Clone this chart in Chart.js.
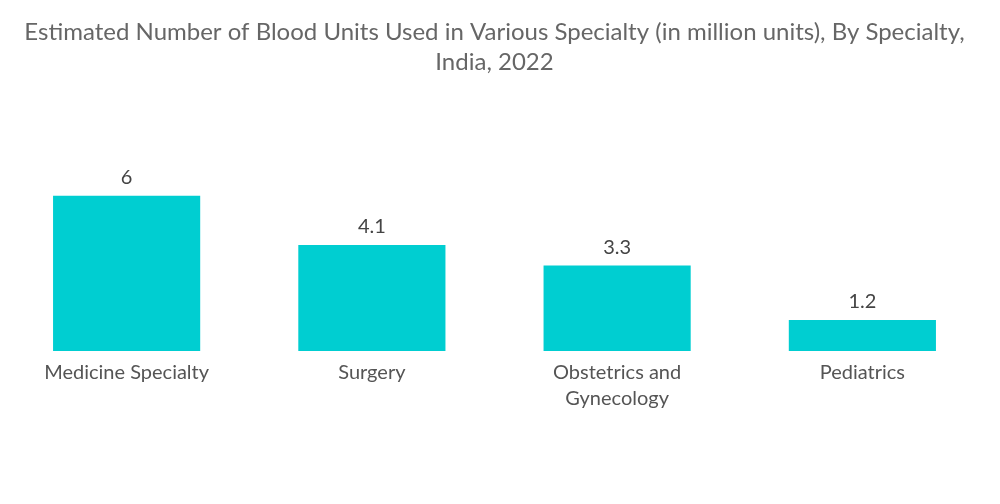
<!DOCTYPE html>
<html>
<head>
<meta charset="utf-8">
<script src="https://cdn.jsdelivr.net/npm/chart.js@4"></script>
<style>
  html, body { margin: 0; padding: 0; background: #fff; }
  #wrap { width: 1000px; height: 504px; }
</style>
</head>
<body>
<div id="wrap"><canvas id="chart"></canvas></div>
<script>
const categories = [['Medicine Specialty'], ['Surgery'], ['Obstetrics and', 'Gynecology'], ['Pediatrics']];
const unitsUsed = [6, 4.1, 3.3, 1.2];
const valueLabels = ['6', '4.1', '3.3', '1.2'];

// draws the value above each bar
const barValues = {
  id: 'barValues',
  afterDatasetsDraw(chart) {
    const { ctx } = chart;
    const meta = chart.getDatasetMeta(0);
    ctx.save();
    ctx.font = '20px Lato, "Open Sans", sans-serif';
    ctx.fillStyle = '#444';
    ctx.textAlign = 'center';
    ctx.textBaseline = 'middle';
    meta.data.forEach((bar, i) => {
      ctx.fillText(valueLabels[i], bar.x, bar.y - 18);
    });
    ctx.restore();
  }
};

new Chart(document.getElementById('chart'), {
  type: 'bar',
  data: {
    labels: categories,
    datasets: [{
      data: unitsUsed,
      backgroundColor: '#00ced1',
      barPercentage: 0.6,
      categoryPercentage: 1
    }]
  },
  options: {
    responsive: true,
    maintainAspectRatio: false,
    animation: false,
    layout: { padding: { left: 4, right: 15, top: 0, bottom: 91 } },
    plugins: {
      legend: { display: false },
      tooltip: { enabled: false },
      title: {
        display: true,
        text: ['Estimated Number of Blood Units Used in Various Specialty (in million units), By Specialty,', 'India, 2022'],
        color: '#666',
        font: { family: 'Lato, "Open Sans", sans-serif', size: 24, weight: 'normal', lineHeight: 1.25 },
        padding: { top: 17, bottom: 67 }
      }
    },
    scales: {
      x: {
        grid: { display: false },
        border: { display: false },
        ticks: {
          color: '#555',
          padding: 1,
          maxRotation: 0,
          font: { family: 'Lato, "Open Sans", sans-serif', size: 20, lineHeight: 1.3 }
        }
      },
      y: {
        display: false,
        min: 0,
        max: 8
      }
    }
  },
  plugins: [barValues]
});
</script>
</body>
</html>
